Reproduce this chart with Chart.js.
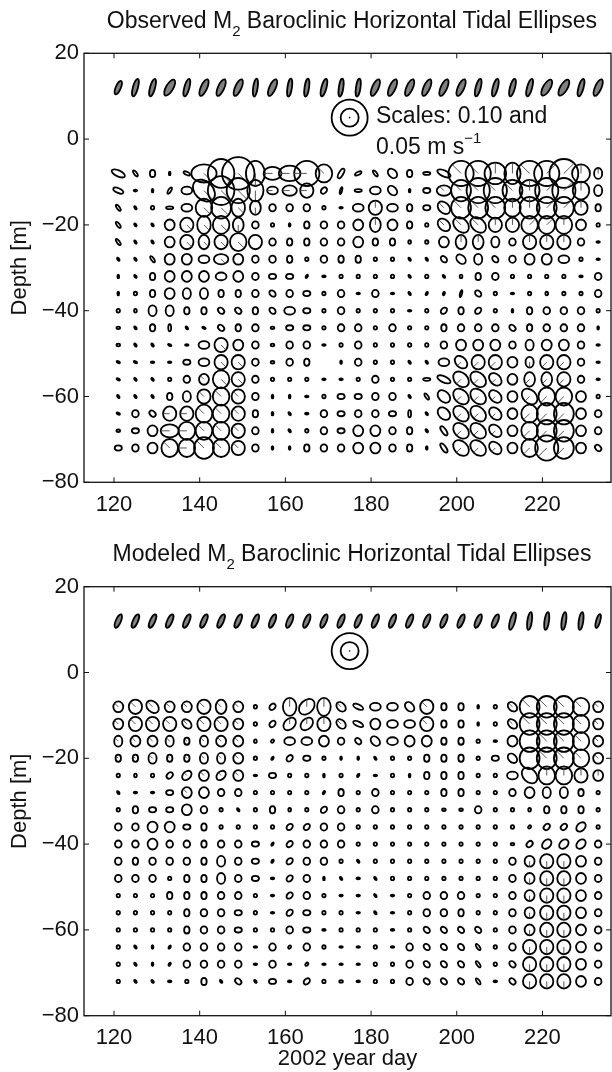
<!DOCTYPE html>
<html>
<head>
<meta charset="utf-8">
<script src="https://cdn.jsdelivr.net/npm/chart.js@4.4.1/dist/chart.umd.min.js"></script>
<style>
  body { margin: 0; background: #fff; overflow: hidden; }
  #page { position: relative; width: 612px; height: 1072px; font-family: "Liberation Sans", Arial, sans-serif; color: #111; }
  canvas { position: absolute; left: 0; }
  .title { position: absolute; left: 52px; width: 600px; text-align: center; font-size: 23px; line-height: 23px; white-space: nowrap; }
  .sub { font-size: 15px; position: relative; top: 8px; }
  .note { position: absolute; left: 376px; font-size: 23px; line-height: 23px; white-space: nowrap; }
  .sup { font-size: 15px; position: relative; top: -11px; }
</style>
</head>
<body>
<div id="page">
  <canvas id="obs" width="612" height="536" style="top:0"></canvas>
  <canvas id="mod" width="612" height="536" style="top:536px"></canvas>
  <div class="title" style="top:9px">Observed M<span class="sub">2</span> Baroclinic Horizontal Tidal Ellipses</div>
  <div class="title" style="top:542px">Modeled M<span class="sub">2</span> Baroclinic Horizontal Tidal Ellipses</div>
  <div class="note" style="top:104px">Scales: 0.10 and</div>
  <div class="note" style="top:135px">0.05 m s<span class="sup">−1</span></div>
</div>
<script>
Chart.defaults.font.family = "'Liberation Sans', Arial, sans-serif";
Chart.defaults.color = "#111";

// ---------- GRID ----------
const days = [121, 125, 129, 133, 137, 141, 145, 149, 153, 157, 161, 165, 169, 173, 177,
              181, 185, 189, 193, 197, 201, 205, 209, 213, 217, 221, 225, 229, 233];
const depths = [12, -8, -12, -16, -20, -24, -28, -32, -36, -40, -44, -48, -52, -56, -60, -64, -68, -72];
const xTicks = [120, 140, 160, 180, 200, 220];
const yTicks = [20, 0, -20, -40, -60, -80];

// scale ellipses (m/s)
const scaleSpeeds = [0.10, 0.05];
const scaleDay = 175;
const scaleDepth = 5;

// ---------- OBSERVED ----------
// semi-major axis, cm/s, one char per ellipse
const obsSize = [
  "45555555555555555555555555555",
  "42212789756753223224776677853",
  "31123787634422233124677667753",
  "21123565422211343224666566642",
  "21134554211222343214554455531",
  "21134445422222322113443244421",
  "11233343222122211112332233311",
  "11233333222111111111122111112",
  "11233322222212121111221111112",
  "11332222223212111112221122221",
  "11221122212212212112222222221",
  "11111343212211211112333233321",
  "11112344212201211113444334421",
  "11112354211111121124554344421",
  "11123454211112222124554355531",
  "12244554211122222214554356632",
  "12355554211122332213554356632",
  "22355654211222332213554357632"
];
// ellipse shape / orientation code
const obsShape = [
  "fkk/kfffsfsskssffffffkkkk//kf",
  "wnv|whoOvhhOo/enbv-wOOOvOOOOv",
  "w-|/hboovhhodk-hb|hhoooooooov",
  "nno-hoovvoooo-hohvhboooooooov",
  "nnnoovovoo|vooovovobbbooooooo",
  "nnnoovoooovvooovvvoovvvooooo-",
  "nnnoohhooovoovvoonnbbvboooho-",
  "|nvooohoohh/-oooononvvooooo-o",
  "|ovovvvvobohoo-o-n/kkbo-ovooo",
  "ovvvvvbbvbhhooooo-odvdo|voooo",
  "hnv|nwbvohhhooooooovooobvooo|",
  "hnnw-hooohoo-ooooooooooovooo-",
  "ww--hhooohovo|ooonnhbooovooo-",
  "wnnooooooooo--oooo-wbbbovvoo-",
  "nnnvvoooo||-ohhoonnbbbboboooo",
  "wobooooov|n-ohooh|nbbbboooooo",
  "hhohooooo|noohooovnnbbboooooo",
  "hoooooooo||vooooov|nbbbooooob"
];
// phase line direction, 1..8 = E, NE, N, NW, W, SW, S, SE
const obsPhase = [
  ".............................",
  ".....88875554.......443342233",
  ".....8887555.......444443223.",
  ".....8887......3...444433223.",
  "....8887.......3...44433223..",
  "....8888............33..333..",
  "......8......................",
  ".............................",
  ".............................",
  ".............................",
  ".............................",
  "......8......................",
  "......88............666.766..",
  ".....488............666.666..",
  ".....444............666.666..",
  "...55444............666.666..",
  "...55444............666.666..",
  "...45444............666.666.."
];

// ---------- MODELED ----------
const modSize = [
  "44444444444444444444444555554",
  "34433443125553333342211366653",
  "34443443124443333342211366653",
  "33332333113332233332211366653",
  "22322333112211111122212366653",
  "11123333121111111122211355543",
  "11123322111112121112211233321",
  "12223211121122121111121112221",
  "22332211112222111111111112231",
  "22322222212222111111111123332",
  "22222232212221111111111234432",
  "22212232212211111111111234432",
  "11122222112211111122211234432",
  "11112222112211111122211234432",
  "11112222112211111122221234432",
  "11112222121211111222221244432",
  "11112222121111111222221244432",
  "11111212121211111222221244432"
];
const modShape = [
  "fffffffffffffffffffffffksssskk".slice(0, 29),
  "oobooovoodvdvbwhhbovv|obooooo",
  "ooooboooodddobwohhovv|obooooo",
  "voovvvoovdhhoobbhoovvo-oooooo",
  "vvvvvvvoo/dho||noovvvohbooooo",
  "ovoddodo-hoo|o/-o|vvvoohboooo",
  "n--hoooooooo/vooooovvoooovvvo",
  "ovhhooonovvodoooooohhooovvvvo",
  "oooohvooooddooooooooooooddddo",
  "ooooovooh/doooooooooooohddddo",
  "ovooovvoh/doo onoooooooooooooo".replace(" ", ""),
  "oooovvvoh-do|n-nooooooooooooo",
  "ooovvvooo-doo--n-oooooooooooo",
  "oooovooho-dhoo-n-ooovoooooooo",
  "oooovoohoooh-ooo-obbbbooooooo",
  "on|/oooo-odoo--o-obbbnooooooo",
  "on|/oooo-o-d---ooobbbnobooooo",
  "onn-ovnbnh-doh-ooobbbn-booooo"
];
const modPhase = [
  ".............................",
  "44444444..3334....4....444444",
  "44444444..3334....4....444444",
  "44444444.................4444.",
  "44444444.................4444.",
  "....4444.................3333.",
  "....4........................",
  ".............................",
  ".............................",
  ".............................",
  "........................777..",
  "........................777..",
  "........................777..",
  "........................777..",
  "........................777..",
  "........................777..",
  "........................777..",
  "........................777.."
];

// ---------- SHAPES ----------
// code: [minor/major ratio, major axis angle in degrees]
const shapeTable = {
  o: [0.92, 90], O: [1.0, 0], v: [0.75, 90], h: [0.72, 0],
  d: [0.72, 45], b: [0.72, 135], "|": [0.4, 90], "-": [0.4, 0],
  "/": [0.4, 60], n: [0.4, 125], w: [0.42, 155], e: [0.42, 25],
  k: [0.28, 75], s: [0.25, 82], f: [0.35, 66]
};
const cmToDays = 0.42;   // 1 cm/s of current = 0.42 axis units of radius

function buildPoints(sizes, shapes, phases) {
  let pts = [];
  depths.forEach((d, i) => {
    days.forEach((t, j) => {
      pts.push({
        x: t, y: d,
        v: Number(sizes[i][j]),
        shape: shapes[i][j],
        phase: phases[i][j] || ".",
        surface: i === 0
      });
    });
  });
  return pts;
}

function scalePoints() {
  return scaleSpeeds.map(s => ({ x: scaleDay, y: scaleDepth, v: s * 100 }));
}

// ---------- DRAW ----------
const ellipsePlugin = {
  id: "ellipses",
  afterDatasetsDraw(chart) {
    let ctx = chart.ctx;
    let xs = chart.scales.x;
    let unit = Math.abs(xs.getPixelForValue(1) - xs.getPixelForValue(0));

    ctx.save();
    let meta = chart.getDatasetMeta(0);
    chart.data.datasets[0].data.forEach((p, i) => {
      let el = meta.data[i];
      let a = p.v * cmToDays * unit;
      if (a <= 0) return;
      let s = shapeTable[p.shape] || shapeTable.o;
      let b = Math.max(a * s[0], 0.9);
      let th = s[1] * Math.PI / 180;

      ctx.beginPath();
      ctx.ellipse(el.x, el.y, a, b, -th, 0, 2 * Math.PI);
      if (p.surface) {
        ctx.fillStyle = "#808080";
        ctx.fill();
      }
      ctx.lineWidth = 1.8;
      ctx.strokeStyle = "#000";
      ctx.stroke();

      if (p.phase !== ".") {
        let phi = (Number(p.phase) - 1) * Math.PI / 4;
        let al = phi - th;
        let r = a * b / Math.sqrt(Math.pow(b * Math.cos(al), 2) + Math.pow(a * Math.sin(al), 2));
        ctx.beginPath();
        ctx.moveTo(el.x, el.y);
        ctx.lineTo(el.x + r * Math.cos(phi), el.y - r * Math.sin(phi));
        ctx.lineWidth = 0.9;
        ctx.strokeStyle = "#444";
        ctx.stroke();
      }
    });

    // scale circles
    let smeta = chart.getDatasetMeta(1);
    chart.data.datasets[1].data.forEach((p, i) => {
      let el = smeta.data[i];
      ctx.beginPath();
      ctx.arc(el.x, el.y, p.v * cmToDays * unit, 0, 2 * Math.PI);
      ctx.lineWidth = 1.8;
      ctx.strokeStyle = "#000";
      ctx.stroke();
      if (i === 0) {
        ctx.beginPath();
        ctx.arc(el.x, el.y, 0.8, 0, 2 * Math.PI);
        ctx.fillStyle = "#000";
        ctx.fill();
      }
    });
    ctx.restore();
  },
  afterDraw(chart) {
    let ctx = chart.ctx;
    let a = chart.chartArea;
    let xs = chart.scales.x, ys = chart.scales.y;
    let tl = 5;

    ctx.save();
    ctx.strokeStyle = "#111";
    ctx.lineWidth = 1.3;
    ctx.strokeRect(a.left, a.top, a.right - a.left, a.bottom - a.top);

    ctx.lineWidth = 1;
    ctx.beginPath();
    xTicks.forEach(v => {
      let px = xs.getPixelForValue(v);
      ctx.moveTo(px, a.bottom); ctx.lineTo(px, a.bottom - tl);
      ctx.moveTo(px, a.top); ctx.lineTo(px, a.top + tl);
    });
    yTicks.forEach(v => {
      let py = ys.getPixelForValue(v);
      ctx.moveTo(a.left, py); ctx.lineTo(a.left + tl, py);
      ctx.moveTo(a.right, py); ctx.lineTo(a.right - tl, py);
    });
    ctx.stroke();
    ctx.restore();
  }
};

// ---------- CHART ----------
function makeChart(id, pts, top, axisH, xTitle) {
  return new Chart(document.getElementById(id), {
    type: "scatter",
    data: {
      datasets: [
        { data: pts, pointRadius: 0 },
        { data: scalePoints(), pointRadius: 0 }
      ]
    },
    options: {
      responsive: false,
      animation: false,
      events: [],
      layout: { padding: { top: top, left: 0, right: 1, bottom: 0 } },
      plugins: { legend: { display: false }, tooltip: { enabled: false } },
      scales: {
        x: {
          type: "linear", min: 113, max: 236,
          grid: { display: false, drawTicks: false }, border: { display: false },
          afterBuildTicks: s => { s.ticks = xTicks.map(v => ({ value: v })); },
          ticks: { padding: 9, font: { size: 22 } },
          title: { display: xTitle !== "", text: xTitle, font: { size: 22 }, padding: 0 },
          afterFit: s => { s.height = axisH; }
        },
        y: {
          type: "linear", min: -80, max: 20,
          grid: { display: false, drawTicks: false }, border: { display: false },
          afterBuildTicks: s => { s.ticks = yTicks.map(v => ({ value: v })); },
          ticks: {
            padding: 5, font: { size: 22 },
            callback: v => String(v).replace("-", "\u2212")
          },
          title: { display: true, text: "Depth [m]", font: { size: 22 }, padding: { top: 7, bottom: 0 } },
          afterFit: s => { s.width = 84; }
        }
      }
    },
    plugins: [ellipsePlugin]
  });
}

makeChart("obs", buildPoints(obsSize, obsShape, obsPhase), 53.3, 53.7, "");
makeChart("mod", buildPoints(modSize, modShape, modPhase), 50.7, 56.3, "2002 year day");
</script>
</body>
</html>
